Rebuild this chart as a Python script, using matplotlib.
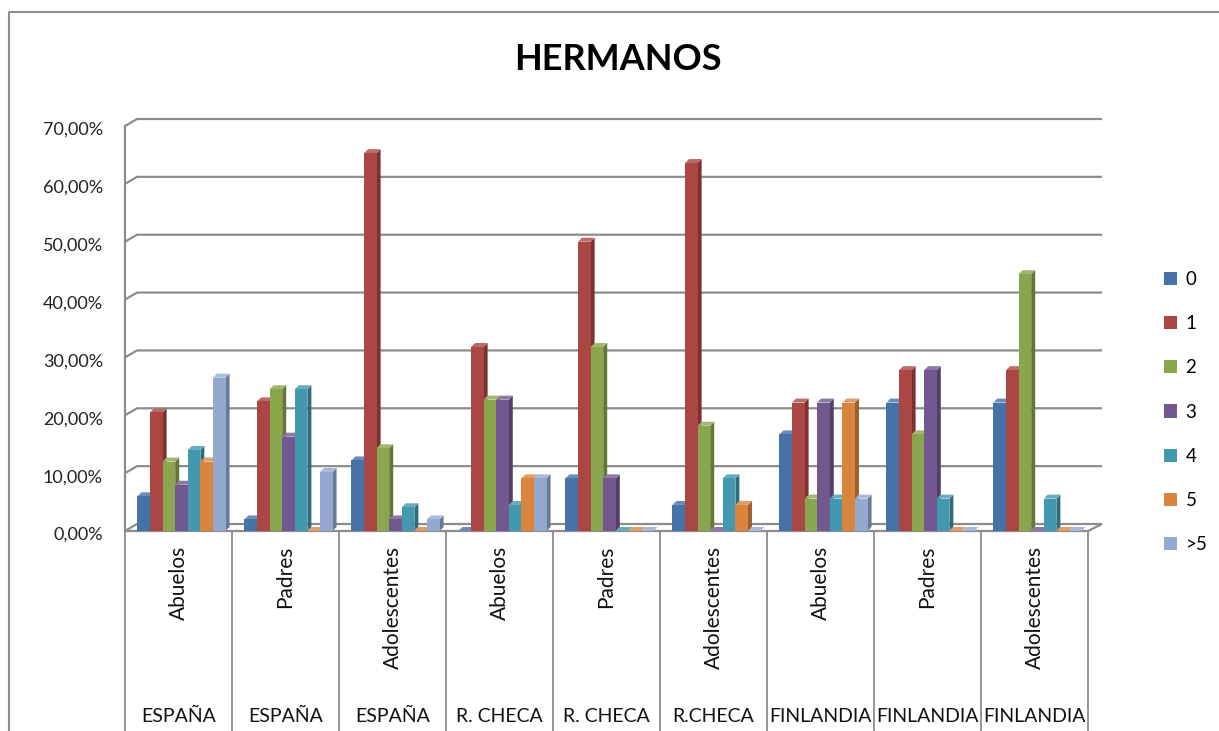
import matplotlib
matplotlib.use("Agg")
import matplotlib.pyplot as plt
from matplotlib.patches import Polygon, Patch
from matplotlib.lines import Line2D
import matplotlib.colors as mcolors

plt.rcParams['font.family'] = ['Lato', 'DejaVu Sans']

# data (percent)
paises = ["ESPAÑA", "ESPAÑA", "ESPAÑA", "R. CHECA", "R. CHECA", "R.CHECA",
          "FINLANDIA", "FINLANDIA", "FINLANDIA"]
grupos = ["Abuelos", "Padres", "Adolescentes", "Abuelos", "Padres", "Adolescentes",
          "Abuelos", "Padres", "Adolescentes"]
series = ["0", "1", "2", "3", "4", "5", ">5"]
h0 = [6.0, 2.0, 12.2, 0.0, 9.1, 4.5, 16.7, 22.2, 22.2]
h1 = [20.5, 22.4, 65.3, 31.8, 50.0, 63.6, 22.2, 27.8, 27.8]
h2 = [12.0, 24.5, 14.3, 22.7, 31.8, 18.2, 5.6, 16.7, 44.4]
h3 = [8.0, 16.3, 2.0, 22.7, 9.1, 0.0, 22.2, 27.8, 0.0]
h4 = [14.0, 24.5, 4.1, 4.5, 0.0, 9.1, 5.6, 5.6, 5.6]
h5 = [12.0, 0.0, 0.0, 9.1, 0.0, 4.5, 22.2, 0.0, 0.0]
h6 = [26.5, 10.2, 2.0, 9.1, 0.0, 0.0, 5.6, 0.0, 0.0]
valores = [h0, h1, h2, h3, h4, h5, h6]
colores = ["#4572A7", "#AA4643", "#89A54E", "#71588F", "#4198AF", "#DB843D", "#93A9CF"]
yticks = [0, 10, 20, 30, 40, 50, 60, 70]

W, H = 1219, 731
fig = plt.figure(figsize=(W / 100, H / 100), dpi=100)
# plot area in pixels
x0px, x1px, ytop, ybot = 125, 1088, 126, 531
ax = fig.add_axes([x0px / W, (H - ybot) / H, (x1px - x0px) / W, (ybot - ytop) / H])
n = len(grupos)
ax.set_xlim(0, n)
ax.set_ylim(0, 70)
ax.axis("off")

xu = n / (x1px - x0px)   # data units per pixel
yu = 70 / (ybot - ytop)
gris = "#8C8C8C"

# back wall / floor (fake 3d)
wdx, wdy = 12 * xu, 7 * yu
xend = (1102 - x0px) * xu
for v in yticks[1:]:
    ax.plot([0, wdx, xend], [v, v + wdy, v + wdy], color=gris, lw=1.6,
            clip_on=False, zorder=1, solid_capstyle="butt")
floor = Polygon([(0, 0), (n, 0), (xend, wdy), (wdx, wdy)], closed=True,
                facecolor="white", edgecolor=gris, lw=1.6, clip_on=False, zorder=1)
ax.add_patch(floor)
ax.plot([0, 0], [0, 70], color=gris, lw=1.6, clip_on=False, zorder=1)

# bars
w = 1 / 8.5
off = (1 - 7 * w) / 2 + 3 * xu
bdx, bdy = 4 * xu, 4 * yu
z = 2
for i in range(n):
    for j, (vals, c) in enumerate(zip(valores, colores)):
        v = vals[i]
        xl = i + off + j * w
        xr = xl + w
        rgb = mcolors.to_rgb(c)
        dark = tuple(k * 0.72 for k in rgb)
        light = tuple(k + (1 - k) * 0.2 for k in rgb)
        side = Polygon([(xr, 0), (xr + bdx, bdy), (xr + bdx, v + bdy), (xr, v)],
                       closed=True, facecolor=dark, edgecolor="none", zorder=z)
        top = Polygon([(xl, v), (xr, v), (xr + bdx, v + bdy), (xl + bdx, v + bdy)],
                      closed=True, facecolor=light, edgecolor="none", zorder=z)
        ax.add_patch(side)
        ax.add_patch(top)
        if v > 0:
            ax.bar(xl, v, width=w, align="edge", color=c, zorder=z + 0.5,
                   edgecolor="none")
        z += 1

# y tick labels
for v in yticks:
    ax.text(-22 * xu, v - 4 * yu, ("%.2f%%" % v).replace(".", ","), ha="right",
            va="center", fontsize=13, color="#222222", clip_on=False)

# category axis
ybottom = -(H - ybot + 5) * yu
for i in range(n + 1):
    ax.plot([i, i], [0, ybottom], color=gris, lw=1.3, clip_on=False, zorder=1)
for i in range(n):
    ax.text(i + 0.5, -15 * yu, grupos[i], rotation=90, ha="center", va="top",
            fontsize=15, color="#111111", clip_on=False)
    ax.text(i + 0.5, -(716 - ybot) * yu, paises[i], ha="center", va="center",
            fontsize=14, color="#111111", clip_on=False)

# title
fig.text(618 / W, 1 - 60 / H, "HERMANOS", ha="center", va="center",
         fontsize=26, fontweight="bold", color="black")

# legend
handles = [Patch(facecolor=c, edgecolor="none") for c in colores]
fig.legend(handles, series, loc="center left", bbox_to_anchor=(1147 / W, 1 - 412 / H),
           frameon=False, fontsize=13.5, handlelength=0.7, handleheight=0.7,
           handletextpad=0.45, labelspacing=1.45)

# chart border
fig.add_artist(Line2D([9 / W, 9 / W, 1.01], [-0.01, 1 - 12 / H, 1 - 12 / H],
                      color=gris, lw=1.5))

fig.savefig("out.png", dpi=100)
